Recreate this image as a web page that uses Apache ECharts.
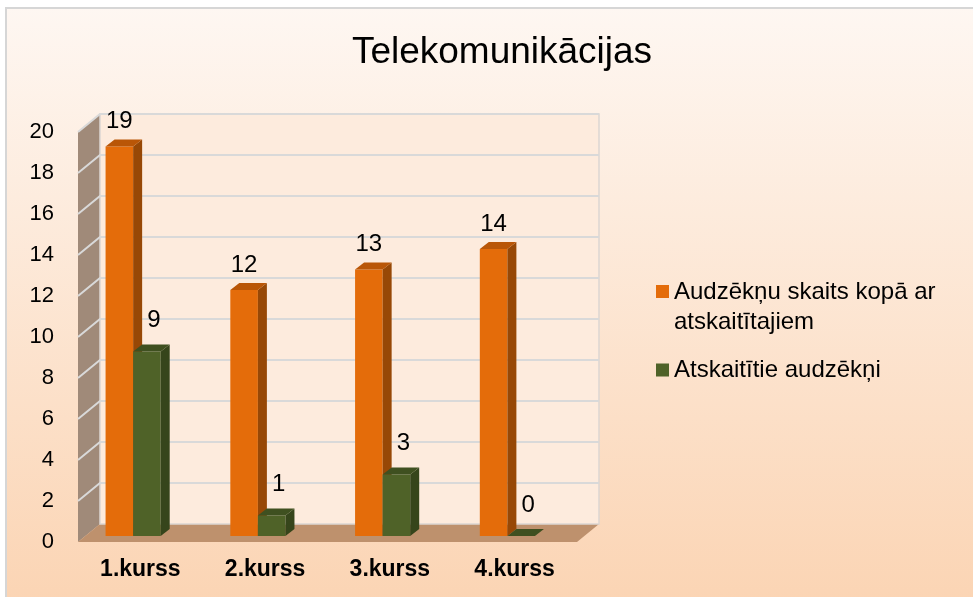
<!DOCTYPE html>
<html>
<head>
<meta charset="utf-8">
<script src="https://cdn.jsdelivr.net/npm/echarts@6/dist/echarts.min.js"></script>
<style>
html,body{margin:0;padding:0;background:#fff;}
#c{width:973px;height:597px;}
</style>
</head>
<body>
<div id="c"></div>
<script>
var titleText = 'Telekomunikācijas';
var categories = ['1.kurss', '2.kurss', '3.kurss', '4.kurss'];
var seriesNames = ['Audzēkņu skaits kopā ar atskaitītajiem', 'Atskaitītie audzēkņi'];
var totalStudents = [19, 12, 13, 14];
var expelledStudents = [9, 1, 3, 0];
var yTicks = [0, 2, 4, 6, 8, 10, 12, 14, 16, 18, 20];

var FONT = '"Liberation Sans", Arial, sans-serif';
var chart = echarts.init(document.getElementById('c'));

var DEPTH = [22, -18];

function frameRender(params, api) {
  var cs = params.coordSys;
  var xL = cs.x, xR = cs.x + cs.width, yT = cs.y, yB = cs.y + cs.height;
  var dx = DEPTH[0], dy = DEPTH[1];
  var children = [];
  children.push({type: 'polygon', shape: {points: [[xL, yT], [xL + dx, yT + dy], [xL + dx, yB + dy], [xL, yB]]},
    style: {fill: '#a08a79'}});
  children.push({type: 'polygon', shape: {points: [[xL, yB], [xL + dx, yB + dy], [xR + dx, yB + dy], [xR, yB]]},
    style: {fill: '#be916d'}});
  children.push({type: 'rect', shape: {x: xL + dx, y: yT + dy, width: xR - xL, height: yB - yT},
    style: {fill: '#fdebdd', stroke: '#dcd6d2', lineWidth: 1.5}});
  for (var k = 0; k < yTicks.length; k++) {
    if (yTicks[k] === 0) continue;
    var y = api.coord([0, yTicks[k]])[1];
    children.push({type: 'polyline', shape: {points: [[xL, y], [xL + dx, y + dy], [xR + dx, y + dy]]},
      style: {stroke: '#d9d9d9', lineWidth: 2, fill: null}});
  }
  return {type: 'group', children: children};
}

function makeBarRender(sIdx, front, side, top, labelDx, labelDy) {
  return function (params, api) {
    var i = api.value(0), v = api.value(1);
    var base = api.coord([i, 0]);
    var tp = api.coord([i, v]);
    var band = api.size([1, 0])[0];
    var w = band * 0.221;
    var x0 = base[0] + (sIdx - 1) * w - band * 0.058;
    var x1 = x0 + w;
    var yb = base[1] - 6, yt = tp[1] - 6;
    var dx = 9, dy = -7;
    return {type: 'group', children: [
      {type: 'rect', shape: {x: x0, y: yt, width: w, height: yb - yt}, style: {fill: front}},
      {type: 'polygon', shape: {points: [[x1, yt], [x1 + dx, yt + dy], [x1 + dx, yb + dy], [x1, yb]]}, style: {fill: side}},
      {type: 'polygon', shape: {points: [[x0, yt], [x0 + dx, yt + dy], [x1 + dx, yt + dy], [x1, yt]]}, style: {fill: top}},
      {type: 'text', style: {text: String(v), x: (x0 + x1) / 2 + labelDx, y: yt + labelDy,
        align: 'center', verticalAlign: 'middle', fontSize: 24, fontFamily: FONT, fill: '#000'}}
    ]};
  };
}

var option = {
  animation: false,
  graphic: [{
    type: 'rect', z: -10, silent: true,
    shape: {x: 6, y: 8, width: 990, height: 600},
    style: {
      fill: {type: 'linear', x: 0, y: 0, x2: 0, y2: 1,
        colorStops: [{offset: 0, color: '#fef7f2'}, {offset: 1, color: '#fbd4b3'}]},
      stroke: '#d6d6d6', lineWidth: 2
    }
  }],
  title: {
    text: titleText, left: 497, top: 29, textAlign: 'center',
    textStyle: {fontFamily: FONT, fontSize: 37, fontWeight: 'normal', color: '#000'}
  },
  legend: [{
    data: [{name: seriesNames[0], icon: 'path://M0,0L0,0M0,8L13,8L13,21L0,21ZM0,60L0,60'}],
    left: 651, top: 272, orient: 'vertical', itemWidth: 13, itemHeight: 60,
    symbolKeepAspect: false, selectedMode: false,
    formatter: function (n) { return n.replace(' atskaitītajiem', '\natskaitītajiem'); },
    textStyle: {fontFamily: FONT, fontSize: 24, lineHeight: 30, color: '#000'}
  }, {
    data: [{name: seriesNames[1], icon: 'rect'}],
    left: 651, top: 350, orient: 'vertical', itemWidth: 13, itemHeight: 13,
    selectedMode: false,
    textStyle: {fontFamily: FONT, fontSize: 24, lineHeight: 30, color: '#000'}
  }],
  grid: {left: 78, right: 396, top: 132, bottom: 55},
  xAxis: {
    type: 'category', data: categories,
    axisLine: {show: false}, axisTick: {show: false},
    axisLabel: {fontFamily: FONT, fontSize: 23, fontWeight: 'bold', color: '#000', margin: 16}
  },
  yAxis: {
    type: 'value', min: 0, max: 20, interval: 2,
    axisLine: {show: false}, axisTick: {show: false}, splitLine: {show: false},
    axisLabel: {fontFamily: FONT, fontSize: 22, color: '#000', margin: 24}
  },
  series: [{
    type: 'custom', name: 'frame', silent: true, z: 1,
    renderItem: frameRender, data: [[0, 0]], encode: {x: 0, y: 1}
  }, {
    type: 'custom', name: seriesNames[0], z: 3,
    itemStyle: {color: '#e46c0a'},
    renderItem: makeBarRender(0, '#e46c0a', '#974806', '#b95607', 0, -25),
    data: totalStudents.map(function (v, i) { return [i, v]; }), encode: {x: 0, y: 1}
  }, {
    type: 'custom', name: seriesNames[1], z: 4,
    itemStyle: {color: '#4f6228'},
    renderItem: makeBarRender(1, '#4f6228', '#36451b', '#3f5020', 7, -31),
    data: expelledStudents.map(function (v, i) { return [i, v]; }), encode: {x: 0, y: 1}
  }]
};
chart.setOption(option);
</script>
</body>
</html>
